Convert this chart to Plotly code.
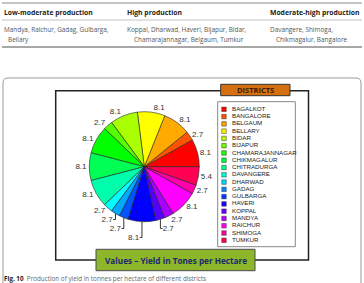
import colorsys
import plotly.graph_objects as go

W, H = 364, 283


def px(x):
    return x / W


def py(y):
    return 1 - y / H


# ---------------- data ----------------
table_headers = ["Low-moderate production", "High production", "Moderate-high production"]
table_cells = [
    ["Mandya, Raichur, Gadag, Gulbarga,", "Bellary"],
    ["Koppal, Dharwad, Haveri, Bijapur, Bidar,", "Chamarajannagar, Belgaum, Tumkur"],
    ["Davangere, Shimoga,", "Chikmagalur, Bangalore"],
]
districts = [
    "BAGALKOT", "BANGALORE", "BELGAUM", "BELLARY", "BIDAR", "BIJAPUR",
    "CHAMARAJANNAGAR", "CHIKMAGALUR", "CHITRADURGA", "DAVANGERE", "DHARWAD",
    "GADAG", "GULBARGA", "HAVERI", "KOPPAL", "MANDYA", "RAICHUR", "SHIMOGA", "TUMKUR",
]
slice_values = [8.1, 2.7, 8.1, 8.1, 8.1, 2.7, 8.1, 8.1, 8.1,
                2.7, 2.7, 2.7, 8.1, 2.7, 2.7, 8.1, 2.7, 5.4]
slice_labels = districts[:len(slice_values)]
legend_title = "DISTRICTS"
values_title = "Values \u2013 Yield in Tones per Hectare"
caption_bold = "Fig. 10"
caption_text = "Production of yield in tonnes per hectare of different districts"


def rainbow(n):
    out = []
    for i in range(n):
        r, g, b = colorsys.hsv_to_rgb(i / n, 1, 1)
        out.append("rgb(%d,%d,%d)" % (round(r * 255), round(g * 255), round(b * 255)))
    return out


pie_colors = rainbow(len(slice_values))
legend_colors = rainbow(len(districts))

fig = go.Figure()

# pie (first slice starts at 3 o'clock, counterclockwise)
first_share = 360.0 * slice_values[0] / sum(slice_values)
cx, cy, r = 144.3, 166.7, 55
fig.add_trace(go.Pie(
    labels=slice_labels,
    values=slice_values,
    sort=False,
    direction="counterclockwise",
    rotation=90 - first_share,
    marker=dict(colors=pie_colors, line=dict(color="#222222", width=0.6)),
    textposition="outside",
    texttemplate="%{value}",
    outsidetextfont=dict(family="Liberation Sans, Arial", size=8, color="#333333"),
    domain=dict(x=[px(cx - r), px(cx + r)], y=[py(cy + r), py(cy - r)]),
    showlegend=False,
    hoverinfo="none",
))

# legend swatches and names on hidden axes
fig.add_trace(go.Scatter(
    x=[0] * len(districts),
    y=list(range(len(districts))),
    mode="markers",
    marker=dict(symbol="square", size=4.5, color=legend_colors,
                line=dict(color="#333333", width=0.5)),
    showlegend=False,
    hoverinfo="none",
    cliponaxis=False,
))
fig.add_trace(go.Scatter(
    x=[2] * len(districts),
    y=list(range(len(districts))),
    mode="text",
    text=districts,
    textposition="middle right",
    textfont=dict(family="Liberation Sans, Arial", size=6.2, color="#222222"),
    showlegend=False,
    hoverinfo="none",
    cliponaxis=False,
))

sp = 7.28
y0, y1 = 109.3 - sp / 2, 240.3 + sp / 2

shapes = []
annotations = []

# table rules
shapes.append(dict(type="line", xref="paper", yref="paper", x0=px(2), x1=px(362), y0=py(3), y1=py(3),
                   line=dict(color="#8a8a8a", width=1)))
shapes.append(dict(type="line", xref="paper", yref="paper", x0=px(2), x1=px(362), y0=py(20), y1=py(20),
                   line=dict(color="#b5b5b5", width=0.8)))
shapes.append(dict(type="line", xref="paper", yref="paper", x0=px(2), x1=px(362), y0=py(47), y1=py(47),
                   line=dict(color="#8a8a8a", width=1.4)))

hx = [3, 126, 269]
for i, h in enumerate(table_headers):
    annotations.append(dict(x=px(hx[i] - 1), y=py(12.5), xref="paper", yref="paper", text="<b>%s</b>" % h,
                            showarrow=False, xanchor="left", yanchor="middle",
                            font=dict(family="Open Sans", size=6.8, color="#222222")))
indent = [4, 7, 6]
for i, lines in enumerate(table_cells):
    annotations.append(dict(x=px(hx[i] - 1), y=py(29), xref="paper", yref="paper", text=lines[0],
                            showarrow=False, xanchor="left", yanchor="middle",
                            font=dict(family="Open Sans", size=6.4, color="#555555")))
    annotations.append(dict(x=px(hx[i] - 1 + indent[i]), y=py(39.5), xref="paper", yref="paper", text=lines[1],
                            showarrow=False, xanchor="left", yanchor="middle",
                            font=dict(family="Open Sans", size=6.4, color="#555555")))

# outer rounded frame
fx0, fx1, fy0, fy1, rad = 3, 361, 78, 295, 5
path = "M %f,%f L %f,%f Q %f,%f %f,%f L %f,%f Q %f,%f %f,%f L %f,%f" % (
    px(fx0), py(fy1), px(fx0), py(fy0 + rad), px(fx0), py(fy0), px(fx0 + rad), py(fy0),
    px(fx1 - rad), py(fy0), px(fx1), py(fy0), px(fx1), py(fy0 + rad), px(fx1), py(fy1))
shapes.append(dict(type="path", xref="paper", yref="paper", path=path,
                   line=dict(color="#9a9a9a", width=1)))

# inner frame
shapes.append(dict(type="rect", xref="paper", yref="paper", x0=px(55.7), x1=px(308.5), y0=py(260), y1=py(90.7),
                   line=dict(color="#222222", width=1.5)))
# legend box
shapes.append(dict(type="rect", xref="paper", yref="paper", x0=px(217.7), x1=px(295.3), y0=py(246.7), y1=py(101.7),
                   line=dict(color="#888888", width=1), fillcolor="white", layer="below"))
# DISTRICTS title box
shapes.append(dict(type="rect", xref="paper", yref="paper", x0=px(220.7), x1=px(290), y0=py(95.7), y1=py(84.3),
                   line=dict(color="#333333", width=1), fillcolor="#d4700f"))
annotations.append(dict(x=px(255.3), y=py(90.2), xref="paper", yref="paper", text="<b>%s</b>" % legend_title,
                        showarrow=False, xanchor="center", yanchor="middle",
                        font=dict(family="Open Sans", size=7.5, color="#3a1a05")))
# values box
shapes.append(dict(type="rect", xref="paper", yref="paper", x0=px(96), x1=px(255), y0=py(270.7), y1=py(249.3),
                   line=dict(color="#4a4a4a", width=1), fillcolor="#8db62b"))
annotations.append(dict(x=px(175.5), y=py(260), xref="paper", yref="paper", text="<b>%s</b>" % values_title,
                        showarrow=False, xanchor="center", yanchor="middle",
                        font=dict(family="Open Sans", size=8.2, color="#1b2a6e")))
# caption
annotations.append(dict(x=px(2), y=py(278), xref="paper", yref="paper",
                        text="<b>%s</b>  <span style='color:#666666'>%s</span>" % (caption_bold, caption_text),
                        showarrow=False, xanchor="left", yanchor="middle",
                        font=dict(family="Open Sans", size=6.3, color="#222222")))

fig.update_layout(
    width=W, height=H,
    margin=dict(l=0, r=0, t=0, b=0),
    paper_bgcolor="white", plot_bgcolor="rgba(0,0,0,0)",
    xaxis=dict(domain=[px(220), px(300)], range=[-1, 19], visible=False, fixedrange=True),
    yaxis=dict(domain=[py(y1), py(y0)], range=[len(districts) - 0.5, -0.5], visible=False, fixedrange=True),
    shapes=shapes,
    annotations=annotations,
    showlegend=False,
)

fig.write_html("out.html")
